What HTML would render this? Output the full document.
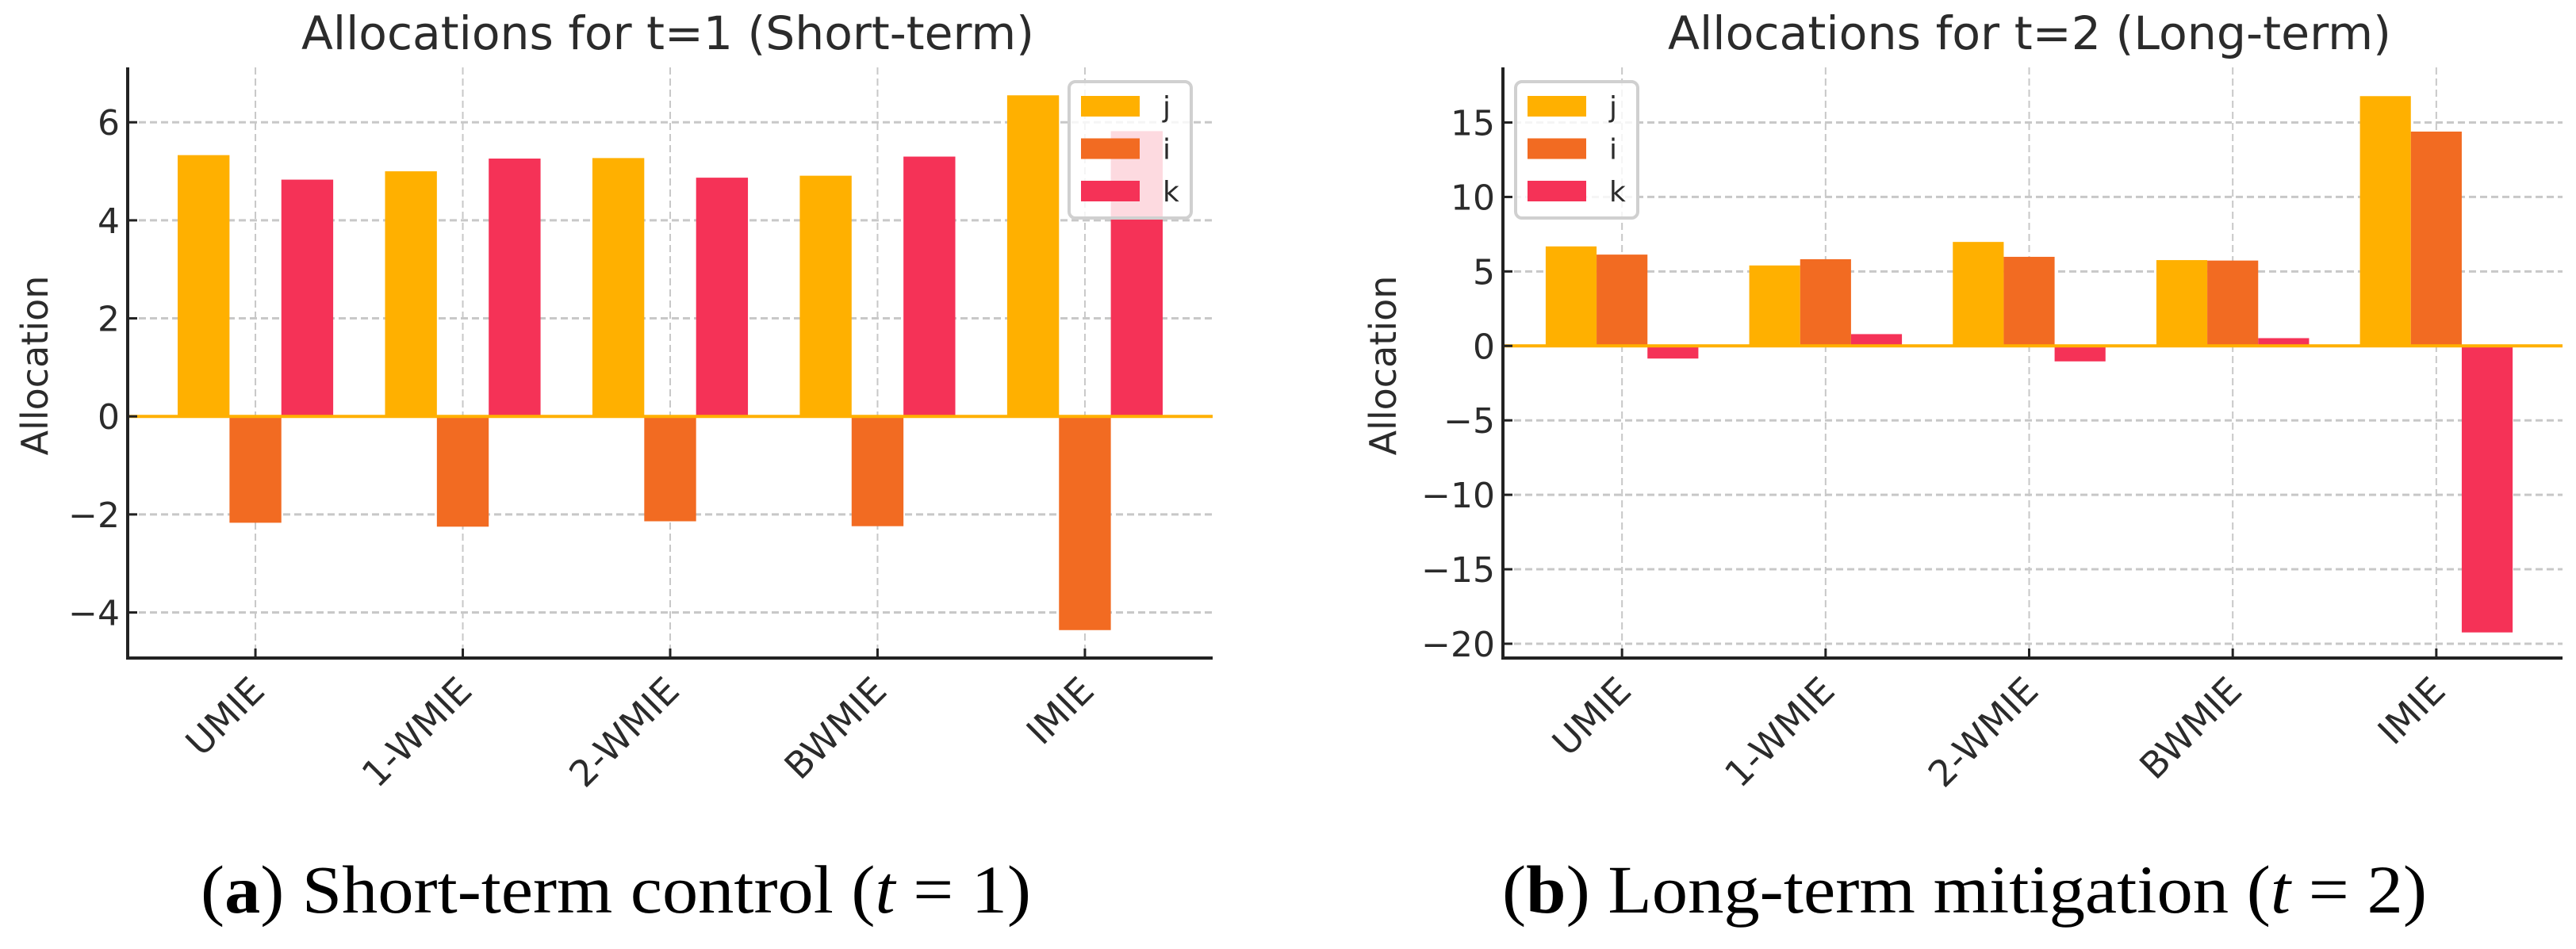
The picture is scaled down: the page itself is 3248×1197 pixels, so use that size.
<!DOCTYPE html>
<html><head><meta charset="utf-8"><style>
html,body{margin:0;padding:0;background:#fff;}
svg{display:block;}
text{font-family:"DejaVu Sans","Liberation Sans",sans-serif;fill:#2b2b2b;}
.cap{font-family:"Liberation Serif",serif;fill:#000;}
</style></head><body>
<svg id="fig" width="3248" height="1197" viewBox="0 0 3248 1197" xmlns="http://www.w3.org/2000/svg">
<text class="cap" x="253" y="1151" font-size="86" textLength="1047" lengthAdjust="spacingAndGlyphs">(<tspan font-weight="bold">a</tspan>) Short-term control (<tspan font-style="italic">t</tspan> = 1)</text>
<text class="cap" x="1894" y="1151" font-size="86" textLength="1166" lengthAdjust="spacingAndGlyphs">(<tspan font-weight="bold">b</tspan>) Long-term mitigation (<tspan font-style="italic">t</tspan> = 2)</text>
</svg>
<script>
const categories = ["UMIE","1-WMIE","2-WMIE","BWMIE","IMIE"];
const seriesNames = ["j","i","k"];
const t1_j = [5.33, 5.00, 5.27, 4.91, 6.55];
const t1_i = [-2.17, -2.25, -2.14, -2.24, -4.36];
const t1_k = [4.83, 5.26, 4.87, 5.30, 5.82];
const t2_j = [6.68, 5.40, 6.98, 5.76, 16.77];
const t2_i = [6.13, 5.82, 5.98, 5.73, 14.39];
const t2_k = [-0.85, 0.79, -1.04, 0.52, -19.24];
const t1_ticks = [-4, -2, 0, 2, 4, 6];
const t2_ticks = [-20, -15, -10, -5, 0, 5, 10, 15];
const t1_tickLabels = ["\u22124","\u22122","0","2","4","6"];
const t2_tickLabels = ["\u221220","\u221215","\u221210","\u22125","0","5","10","15"];
const colors = ["#FFB000","#F26B22","#F53257"];

const NS = "http://www.w3.org/2000/svg";
const svg = document.getElementById("fig");
function mk(tag, attrs, parent){
  const e = document.createElementNS(NS, tag);
  for (const k in attrs) e.setAttribute(k, attrs[k]);
  (parent||svg).appendChild(e);
  return e;
}

function chart(cfg){
  const g = mk("g", {});
  
  
  const L=cfg.left, R=cfg.right, T=85, B=830;
  const x = v => L + (v - cfg.xmin) / (cfg.xmax - cfg.xmin) * (R - L);
  const y = v => B - (v - cfg.ymin) / (cfg.ymax - cfg.ymin) * (B - T);
  const bw = (x(1) - x(0)) * 0.25;
  cfg.ticks.forEach((t,i)=>{
    const gl = mk("line",{x1:L,x2:R,y1:y(t),y2:y(t),stroke:"#c8c8c8","stroke-width":3,"stroke-dasharray":"9,5"},g);
    
    
  });
  categories.forEach((c,i)=>{
    const gl = mk("line",{x1:x(i),x2:x(i),y1:T,y2:B,stroke:"#c8c8c8","stroke-width":2,"stroke-dasharray":"9,5"},g);
    
    
  });
  cfg.series.forEach((vals,s)=>{
    vals.forEach((v,i)=>{
      const cx = x(i) + (s-1)*bw;
      const r = mk("rect",{x:cx-bw/2,y:Math.min(y(v),y(0)),width:bw,height:Math.abs(y(v)-y(0)),fill:colors[s]},g);
      
      
    });
  });
  const z = mk("line",{x1:L,x2:R,y1:y(0),y2:y(0),stroke:"#FFB000","stroke-width":4},g);
  
  
  const sp = mk("path",{d:`M${L},${T} L${L},${B} L${R},${B}`,fill:"none",stroke:"#222","stroke-width":4},g);
  
  
  cfg.ticks.forEach((t,i)=>{
    mk("line",{x1:L,x2:L+12,y1:y(t),y2:y(t),stroke:"#222","stroke-width":3},g);
    const tx = mk("text",{x:L-10,y:y(t)+16,"font-size":44,"text-anchor":"end"},g);
    tx.textContent = cfg.tickLabels[i];
    
    
  });
  categories.forEach((c,i)=>{
    mk("line",{x1:x(i),x2:x(i),y1:B,y2:B-12,stroke:"#222","stroke-width":3},g);
    const tx = mk("text",{x:0,y:0,"font-size":46,"text-anchor":"end",transform:`translate(${x(i)+14},${B+44}) rotate(-45)`},g);
    tx.textContent = c;
    
    
  });
  const tt = mk("text",{x:cfg.titleX,y:62,"font-size":58,textLength:cfg.titleW,lengthAdjust:"spacingAndGlyphs"},g);
  tt.textContent = cfg.title;
  
  
  const yl = mk("text",{x:0,y:0,"font-size":46,"text-anchor":"middle",transform:`translate(${cfg.ylabX},461) rotate(-90)`},g);
  yl.textContent = "Allocation";
  
  
  const lg = mk("g",{},g);
  
  
  const lx = cfg.legX;
  mk("rect",{x:lx,y:103,width:154,height:172,rx:8,fill:"#fff","fill-opacity":0.82,stroke:"#d0d0d0","stroke-width":4},lg);
  seriesNames.forEach((n,s)=>{
    const py = 121 + s*53.5;
    const p = mk("rect",{x:lx+15,y:py,width:74,height:26,fill:colors[s]},lg);
    
    
    const t = mk("text",{x:lx+118,y:py+26,"font-size":36},lg);
    t.textContent = n;
    
    
  });
}

chart({name:"chart-short-term", left:161, right:1529, xmin:-0.616, xmax:4.616, ymin:-4.93, ymax:7.12,
  series:[t1_j,t1_i,t1_k], ticks:t1_ticks, tickLabels:t1_tickLabels,
  title:"Allocations for t=1 (Short-term)", titleX:380, titleW:924, ylabX:60, legX:1348});
chart({name:"chart-long-term", left:1895, right:3231, xmin:-0.585, xmax:4.62, ymin:-20.96, ymax:18.7,
  series:[t2_j,t2_i,t2_k], ticks:t2_ticks, tickLabels:t2_tickLabels,
  title:"Allocations for t=2 (Long-term)", titleX:2103, titleW:912, ylabX:1760, legX:1911});
</script>
</body></html>
